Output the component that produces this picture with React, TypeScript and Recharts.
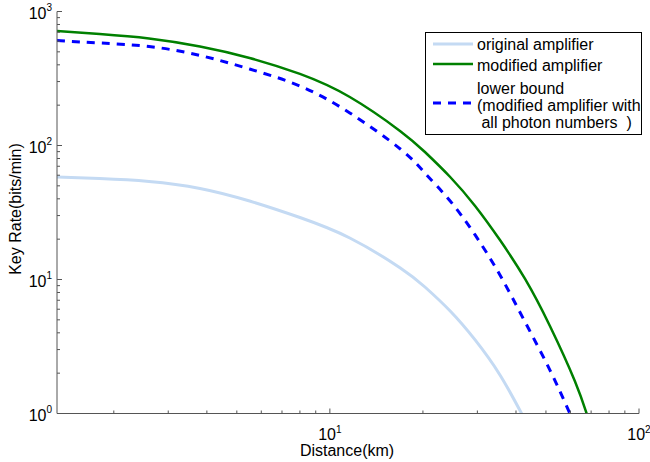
import React from 'react';
import { LineChart, Line, XAxis, YAxis, Legend } from 'recharts';

const FONT = "'Liberation Sans', Arial, Helvetica, sans-serif";

const originalDist = [1.31, 1.8, 2.6, 3.8, 5.5, 8, 11.6, 16.9, 20.3, 24.5, 29.5, 35.5, 42];
const originalRate = [58.2, 56.7, 53.9, 47.8, 38.5, 29.0, 20.4, 12.2, 8.79, 5.82, 3.54, 1.94, 0.97];

const modifiedDist = [1.31, 1.8, 2.6, 3.8, 5.5, 8, 11.6, 16.9, 20.3, 24.5, 29.5, 35.5, 42.8, 51.5, 62, 68];
const modifiedRate = [715, 679, 629, 548, 450, 342, 230, 128, 89.4, 58.2, 35.4, 19.7, 10.1, 4.5, 1.75, 0.97];

const lowerDist = [1.31, 1.8, 2.6, 3.8, 5.5, 8, 11.6, 16.9, 20.3, 24.5, 29.5, 35.5, 42.8, 51.5, 60];
const lowerRate = [608, 582, 548, 470, 372, 278, 175, 94.2, 62.3, 38.5, 21.5, 10.8, 4.82, 2.11, 0.98];

const xTicks = [2, 3, 4, 5, 6, 7, 8, 9, 10, 20, 30, 40, 50, 60, 70, 80, 90, 100];
const yTicks = [1, 2, 3, 4, 5, 6, 7, 8, 9, 10, 20, 30, 40, 50, 60, 70, 80, 90, 100, 200, 300, 400, 500, 600, 700, 800, 900, 1000];

const seriesNames = ['original amplifier', 'modified amplifier', 'lower bound'];
const LIGHT = '#c4daf3';
const GREEN = '#008000';
const BLUE = '#0000ff';
const AXIS = '#555555';

const toPoints = (xs: number[], ys: number[]) => xs.map((x, i) => ({ x, y: ys[i] }));
const originalData = toPoints(originalDist, originalRate);
const modifiedData = toPoints(modifiedDist, modifiedRate);
const lowerData = toPoints(lowerDist, lowerRate);

const isMajor = (v: number) => {
  const l = Math.log10(v);
  return Math.abs(l - Math.round(l)) < 1e-6;
};

const XTick = (props: any) => {
  const { x, y, payload } = props;
  const v = payload.value;
  const major = isMajor(v);
  const exp = Math.round(Math.log10(v));
  return (
    <g>
      <line x1={x} x2={x} y1={y} y2={y - (major ? 5 : 3)} stroke={AXIS} strokeWidth={1} />
      {major && (
        <text x={x} y={y + 26.5} textAnchor="middle" fontSize={16} fill="#000" fontFamily={FONT}>
          10<tspan dy={-7.5} fontSize={10}>{exp}</tspan>
        </text>
      )}
    </g>
  );
};

const YTick = (props: any) => {
  const { x, y, payload } = props;
  const v = payload.value;
  const major = isMajor(v);
  const exp = Math.round(Math.log10(v));
  return (
    <g>
      <line x1={x} x2={x + (major ? 5 : 3)} y1={y} y2={y} stroke={AXIS} strokeWidth={1} />
      {major && (
        <text x={x - 5} y={y + 7} textAnchor="end" fontSize={16} fill="#000" fontFamily={FONT}>
          10<tspan dy={-8} fontSize={10}>{exp}</tspan>
        </text>
      )}
    </g>
  );
};

const LegendBox = () => (
  <svg width={218} height={104} style={{ display: 'block' }}>
    <rect x={0.5} y={0.5} width={216} height={102} fill="#fff" stroke="#000" strokeWidth={1} />
    <g fontFamily={FONT} fontSize={16} fill="#000">
      <line x1={8} x2={48} y1={12} y2={12} stroke={LIGHT} strokeWidth={3} />
      <text x={52} y={18}>{seriesNames[0]}</text>
      <line x1={8} x2={48} y1={32} y2={32} stroke={GREEN} strokeWidth={2.5} />
      <text x={52} y={38.5}>{seriesNames[1]}</text>
      <line x1={8} x2={48} y1={71} y2={71} stroke={BLUE} strokeWidth={3} strokeDasharray="8 7" />
      <text x={52} y={62}>{seriesNames[2]}</text>
      <text x={52} y={79}>(modified amplifier with</text>
      <text x={52} y={95.5} style={{ whiteSpace: 'pre' }}>{' all photon numbers  )'}</text>
    </g>
  </svg>
);

export default function App() {
  return (
    <div style={{ position: 'absolute', left: 0, top: 0, width: 650, height: 462, background: '#fff' }}>
      <LineChart width={650} height={462} margin={{ top: 11.5, right: 11, left: 0, bottom: 0 }}>
        <XAxis
          dataKey="x"
          type="number"
          scale="log"
          domain={[1.31, 100]}
          ticks={xTicks}
          interval={0}
          allowDataOverflow
          tickSize={0}
          tickMargin={0}
          tickLine={false}
          tick={<XTick />}
          axisLine={{ stroke: AXIS, strokeWidth: 1 }}
          height={48.5}
        />
        <YAxis
          dataKey="y"
          type="number"
          scale="log"
          domain={[1, 1000]}
          ticks={yTicks}
          interval={0}
          allowDataOverflow
          tickSize={0}
          tickMargin={0}
          tickLine={false}
          tick={<YTick />}
          axisLine={{ stroke: AXIS, strokeWidth: 1 }}
          width={57}
        />
        <Line data={originalData} dataKey="y" name={seriesNames[0]} type="natural" stroke={LIGHT} strokeWidth={3} dot={false} activeDot={false} isAnimationActive={false} />
        <Line data={lowerData} dataKey="y" name={seriesNames[2]} type="natural" stroke={BLUE} strokeWidth={3} strokeDasharray="8 7" dot={false} activeDot={false} isAnimationActive={false} />
        <Line data={modifiedData} dataKey="y" name={seriesNames[1]} type="natural" stroke={GREEN} strokeWidth={2.5} dot={false} activeDot={false} isAnimationActive={false} />
        <Legend
          layout="horizontal"
          verticalAlign="middle"
          align="center"
          content={<LegendBox />}
          wrapperStyle={{ left: 425, top: 32, width: 218, height: 104 }}
        />
        <text x={347} y={456} textAnchor="middle" fontSize={16} fontFamily={FONT} fill="#000">Distance(km)</text>
        <text x={21} y={209} textAnchor="middle" fontSize={16} fontFamily={FONT} fill="#000" transform="rotate(-90, 21, 209)">Key Rate(bits/min)</text>
      </LineChart>
    </div>
  );
}
